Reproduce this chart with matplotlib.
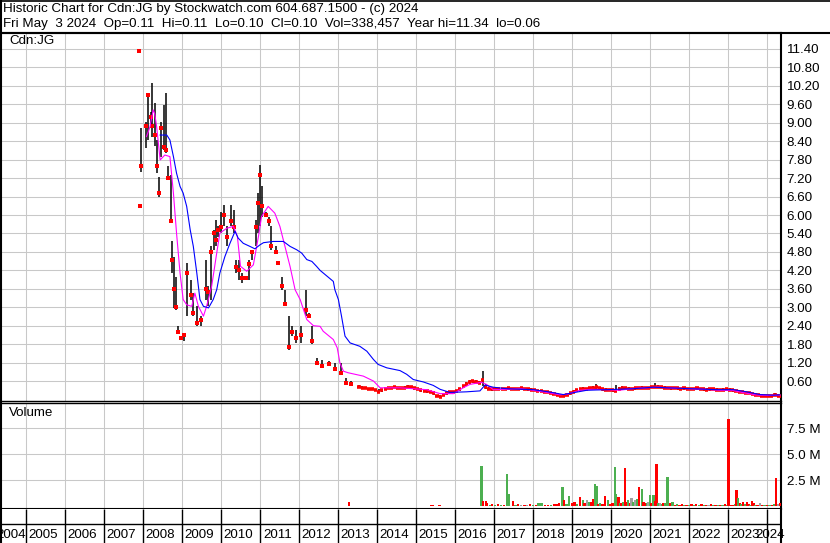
import numpy as np
import pandas as pd
import matplotlib
matplotlib.use("Agg")
import matplotlib.pyplot as plt
from matplotlib.lines import Line2D

plt.rcParams['font.family'] = ['Liberation Sans', 'DejaVu Sans']

# ------------------------------------------------------------------ data
title_line1 = "Historic Chart for Cdn:JG by Stockwatch.com 604.687.1500 - (c) 2024"
title_line2 = ("Fri May  3 2024  Op=0.11  Hi=0.11  Lo=0.10  Cl=0.10  "
               "Vol=338,457  Year hi=11.34  lo=0.06")
symbol = "Cdn:JG"

year_labels = ["2004", "2005", "2006", "2007", "2008", "2009", "2010", "2011",
               "2012", "2013", "2014", "2015", "2016", "2017", "2018", "2019",
               "2020", "2021", "2022", "2023", "2024"]
year_starts = [2005, 2006, 2007, 2008, 2009, 2010, 2011, 2012, 2013, 2014,
               2015, 2016, 2017, 2018, 2019, 2020, 2021, 2022, 2023, 2024]

price_ticks = [0.60, 1.20, 1.80, 2.40, 3.00, 3.60, 4.20, 4.80, 5.40, 6.00,
               6.60, 7.20, 7.80, 8.40, 9.00, 9.60, 10.20, 10.80, 11.40]
vol_ticks = [2.5, 5.0, 7.5]
vol_tick_labels = ["2.5 M", "5.0 M", "7.5 M"]

# early (weekly-ish) bars, decimal years
early_dates = [2007.897, 2007.92, 2007.95, 2008.08, 2008.13, 2008.20, 2008.24,
               2008.30, 2008.35, 2008.41, 2008.46, 2008.54, 2008.58, 2008.64,
               2008.72, 2008.75, 2008.79, 2008.85, 2008.90, 2008.97, 2009.05,
               2009.13, 2009.23, 2009.28, 2009.38, 2009.49, 2009.62, 2009.67,
               2009.74, 2009.82, 2009.87, 2009.92, 2010.00, 2010.08, 2010.15,
               2010.26, 2010.33, 2010.38, 2010.46, 2010.54, 2010.64, 2010.72,
               2010.79, 2010.90, 2010.95, 2011.00, 2011.06, 2011.15, 2011.23,
               2011.28, 2011.41, 2011.46, 2011.56, 2011.64, 2011.74, 2011.82,
               2011.92, 2012.05, 2012.18, 2012.26, 2012.33, 2012.46, 2012.59,
               2012.77, 2012.92, 2013.08, 2013.21, 2013.33]
early_high = [11.34, 6.32, 8.82, 9.04, 9.96, 9.36, 10.28, 9.63, 8.44, 7.25,
              9.04, 9.58, 9.96, 7.58, 7.31, 5.14, 4.65, 4.00, 2.38, 2.06,
              2.16, 4.44, 3.90, 3.46, 3.03, 2.71, 4.55, 3.68, 4.98, 5.52,
              5.84, 5.63, 6.11, 6.33, 5.63, 6.33, 6.17, 4.55, 4.55, 4.11,
              4.00, 4.55, 4.87, 5.84, 6.71, 7.63, 6.93, 6.11, 5.95, 5.63,
              4.98, 4.49, 4.00, 3.57, 2.71, 2.38, 2.27, 2.38, 3.57, 2.81,
              2.38, 1.35, 1.30, 1.24, 1.19, 1.19, 0.70, 0.60]
early_low = [11.30, 6.25, 7.41, 8.17, 8.44, 8.87, 8.55, 8.23, 7.36, 6.60,
             7.90, 8.12, 8.01, 7.14, 5.74, 4.11, 2.98, 2.92, 2.16, 1.95,
             1.89, 2.71, 3.25, 2.71, 2.38, 2.38, 3.25, 3.03, 3.25, 4.87,
             4.98, 5.30, 5.41, 5.63, 4.98, 5.63, 5.41, 4.11, 3.90, 3.79,
             3.90, 3.90, 4.55, 4.98, 5.41, 5.63, 5.95, 5.95, 5.63, 4.87,
             4.76, 4.40, 3.57, 3.03, 1.62, 2.06, 1.84, 1.84, 2.70, 2.65,
             1.79, 1.13, 1.03, 1.10, 0.97, 0.81, 0.49, 0.45]
early_close = [11.34, 6.30, 7.58, 8.90, 9.90, 9.20, 8.90, 8.60, 7.60, 6.70,
               8.82, 8.20, 8.12, 7.20, 5.80, 4.55, 3.60, 3.00, 2.20, 2.00,
               2.10, 4.11, 3.40, 2.80, 2.50, 2.60, 3.60, 3.50, 4.80, 5.40,
               5.20, 5.50, 5.60, 6.00, 5.30, 5.80, 5.60, 4.30, 4.20, 3.95,
               3.95, 4.40, 4.80, 5.60, 6.40, 7.30, 6.30, 6.00, 5.80, 5.00,
               4.80, 4.45, 3.70, 3.10, 1.70, 2.20, 2.00, 2.10, 2.90, 2.70,
               1.90, 1.20, 1.10, 1.15, 1.00, 0.85, 0.55, 0.50]

# later (monthly) bars, Jul 2013 .. May 2024
later_months = pd.period_range("2013-07", "2024-05", freq="M")
later_close = [0.42, 0.38, 0.36, 0.35, 0.33, 0.32,
               0.25, 0.30, 0.33, 0.36, 0.38, 0.40, 0.38, 0.37, 0.39, 0.42, 0.40, 0.36,
               0.33, 0.30, 0.28, 0.27, 0.25, 0.22, 0.10, 0.09, 0.14, 0.20, 0.24, 0.25,
               0.27, 0.33, 0.43, 0.52, 0.58, 0.60, 0.58, 0.55, 0.62, 0.40, 0.35, 0.33,
               0.34, 0.35, 0.33, 0.34, 0.36, 0.35, 0.34, 0.35, 0.36, 0.35, 0.33, 0.32,
               0.30, 0.28, 0.27, 0.25, 0.24, 0.22, 0.18, 0.15, 0.13, 0.12, 0.15, 0.20,
               0.26, 0.30, 0.33, 0.35, 0.34, 0.36, 0.38, 0.40, 0.36, 0.33, 0.32, 0.31,
               0.30, 0.28, 0.33, 0.36, 0.38, 0.35, 0.34, 0.36, 0.37, 0.38, 0.37, 0.38,
               0.40, 0.42, 0.41, 0.40, 0.39, 0.37, 0.36, 0.37, 0.36, 0.35, 0.36, 0.35,
               0.35, 0.34, 0.36, 0.35, 0.33, 0.32, 0.33, 0.34, 0.32, 0.31, 0.32, 0.33,
               0.32, 0.30, 0.28, 0.26, 0.25, 0.22, 0.20, 0.18, 0.16, 0.14, 0.13, 0.12,
               0.12, 0.13, 0.16, 0.12, 0.10]
later_high = [0.47, 0.43, 0.40, 0.38, 0.36, 0.35,
              0.33, 0.34, 0.36, 0.40, 0.42, 0.43, 0.41, 0.40, 0.43, 0.46, 0.43, 0.40,
              0.38, 0.33, 0.32, 0.30, 0.28, 0.27, 0.16, 0.14, 0.18, 0.24, 0.27, 0.28,
              0.30, 0.38, 0.48, 0.58, 0.62, 0.65, 0.63, 0.60, 0.92, 0.50, 0.40, 0.38,
              0.38, 0.39, 0.37, 0.38, 0.42, 0.39, 0.38, 0.39, 0.40, 0.39, 0.37, 0.36,
              0.33, 0.31, 0.30, 0.28, 0.27, 0.25, 0.22, 0.19, 0.17, 0.16, 0.20, 0.25,
              0.30, 0.34, 0.38, 0.40, 0.38, 0.41, 0.44, 0.50, 0.42, 0.38, 0.36, 0.35,
              0.34, 0.48, 0.40, 0.45, 0.42, 0.40, 0.38, 0.41, 0.42, 0.43, 0.41, 0.42,
              0.45, 0.53, 0.47, 0.45, 0.43, 0.41, 0.40, 0.41, 0.40, 0.39, 0.40, 0.39,
              0.39, 0.38, 0.41, 0.39, 0.37, 0.36, 0.37, 0.38, 0.36, 0.35, 0.36, 0.37,
              0.36, 0.35, 0.32, 0.30, 0.29, 0.26, 0.24, 0.22, 0.20, 0.18, 0.17, 0.16,
              0.15, 0.16, 0.22, 0.17, 0.11]
later_low = [0.38, 0.35, 0.33, 0.31, 0.30, 0.28,
             0.22, 0.25, 0.30, 0.33, 0.35, 0.36, 0.35, 0.34, 0.36, 0.38, 0.36, 0.32,
             0.30, 0.26, 0.24, 0.22, 0.21, 0.16, 0.07, 0.06, 0.10, 0.16, 0.21, 0.22,
             0.24, 0.28, 0.38, 0.45, 0.52, 0.55, 0.53, 0.50, 0.45, 0.33, 0.30, 0.29,
             0.30, 0.31, 0.30, 0.30, 0.32, 0.31, 0.30, 0.31, 0.32, 0.31, 0.29, 0.28,
             0.27, 0.25, 0.24, 0.22, 0.21, 0.18, 0.14, 0.11, 0.10, 0.09, 0.12, 0.16,
             0.22, 0.26, 0.29, 0.31, 0.30, 0.32, 0.34, 0.35, 0.32, 0.29, 0.28, 0.27,
             0.26, 0.23, 0.28, 0.32, 0.34, 0.31, 0.30, 0.32, 0.33, 0.34, 0.33, 0.34,
             0.36, 0.37, 0.37, 0.36, 0.35, 0.33, 0.32, 0.33, 0.32, 0.31, 0.32, 0.31,
             0.31, 0.30, 0.32, 0.31, 0.29, 0.28, 0.29, 0.30, 0.28, 0.27, 0.28, 0.29,
             0.28, 0.26, 0.25, 0.23, 0.21, 0.19, 0.17, 0.15, 0.13, 0.12, 0.11, 0.10,
             0.10, 0.11, 0.12, 0.10, 0.10]

# moving averages
ma_fast_dates = [2008.09, 2008.18, 2008.26, 2008.30, 2008.35, 2008.44, 2008.56,
                 2008.69, 2008.78, 2008.86, 2008.95, 2009.03, 2009.12, 2009.25,
                 2009.33, 2009.42, 2009.55, 2009.63, 2009.76, 2009.89, 2009.97,
                 2010.15, 2010.32, 2010.42, 2010.50, 2010.66, 2010.83, 2010.96,
                 2011.04, 2011.21, 2011.38, 2011.51, 2011.64, 2011.77, 2011.90,
                 2012.03, 2012.20, 2012.37, 2012.54, 2012.62, 2012.88, 2012.98,
                 2013.05, 2013.14, 2013.26, 2013.65, 2013.91, 2014.08, 2014.59,
                 2015.27, 2015.62, 2015.96, 2016.21, 2016.38, 2016.68, 2016.81,
                 2016.98, 2017.30, 2017.70, 2018.00, 2018.40, 2018.70, 2018.90,
                 2019.20, 2019.50, 2019.90, 2020.20, 2020.60, 2020.90, 2021.20,
                 2021.60, 2022.00, 2022.40, 2022.80, 2023.10, 2023.40, 2023.70,
                 2024.00, 2024.33]
ma_fast_vals = [8.55, 8.87, 9.42, 9.30, 8.87, 7.79, 7.95, 7.90, 6.71, 5.41,
                4.11, 3.25, 3.08, 3.03, 3.46, 3.03, 2.71, 3.03, 3.68, 4.76,
                5.41, 5.57, 5.63, 5.30, 4.33, 4.17, 4.38, 5.30, 5.95, 6.28,
                6.06, 5.63, 4.98, 4.33, 3.57, 3.25, 2.60, 2.40, 2.38, 2.22,
                1.95, 1.68, 1.19, 0.92, 0.87, 0.76, 0.60, 0.38, 0.38, 0.32,
                0.19, 0.19, 0.38, 0.49, 0.56, 0.49, 0.32, 0.33, 0.35, 0.30,
                0.22, 0.15, 0.18, 0.30, 0.33, 0.32, 0.30, 0.36, 0.38, 0.40,
                0.37, 0.35, 0.33, 0.30, 0.30, 0.22, 0.15, 0.13, 0.14]
ma_slow_dates = [2008.44, 2008.61, 2008.69, 2008.78, 2008.86, 2008.95, 2009.03,
                 2009.12, 2009.21, 2009.29, 2009.38, 2009.46, 2009.55, 2009.68,
                 2009.80, 2009.89, 2009.97, 2010.10, 2010.23, 2010.36, 2010.44,
                 2010.57, 2010.74, 2010.87, 2011.00, 2011.09, 2011.34, 2011.60,
                 2011.77, 2011.94, 2012.07, 2012.20, 2012.33, 2012.45, 2012.54,
                 2012.88, 2012.92, 2013.01, 2013.09, 2013.18, 2013.31, 2013.56,
                 2013.74, 2013.91, 2014.03, 2014.25, 2014.59, 2014.76, 2014.93,
                 2015.19, 2015.44, 2015.62, 2015.87, 2016.30, 2016.64, 2016.77,
                 2016.98, 2017.33, 2018.01, 2018.44, 2018.78, 2019.03, 2019.38,
                 2019.89, 2020.57, 2021.08, 2021.85, 2022.71, 2023.14, 2023.48,
                 2023.82, 2024.16, 2024.33]
ma_slow_vals = [8.60, 8.60, 8.44, 7.90, 7.36, 6.93, 6.71, 6.28, 5.52, 4.98,
                4.11, 3.25, 3.03, 2.98, 3.25, 3.57, 4.11, 4.65, 5.08, 5.47,
                5.25, 5.08, 4.98, 4.90, 5.03, 5.10, 5.14, 5.14, 4.98, 4.87,
                4.76, 4.55, 4.49, 4.33, 4.20, 3.84, 3.57, 3.25, 2.71, 2.06,
                1.84, 1.73, 1.57, 1.30, 1.14, 1.03, 0.94, 0.82, 0.65, 0.57,
                0.46, 0.33, 0.23, 0.25, 0.28, 0.47, 0.40, 0.35, 0.32, 0.24,
                0.16, 0.22, 0.30, 0.32, 0.35, 0.40, 0.36, 0.32, 0.32, 0.25,
                0.16, 0.14, 0.15]

# weekly volume (millions): date, size, direction (u=up, d=down, n=unchanged)
vol_dates = [2011.77, 2013.28, 2015.40, 2015.44, 2015.60, 2016.66, 2016.68, 2016.72,
             2016.79, 2016.82, 2016.90, 2016.95, 2017.03, 2017.10, 2017.18, 2017.25,
             2017.33, 2017.39, 2017.48, 2017.55, 2017.62, 2017.70, 2017.78, 2017.85,
             2017.92, 2018.00, 2018.08, 2018.14, 2018.22, 2018.30, 2018.38, 2018.46,
             2018.55, 2018.62, 2018.67, 2018.76, 2018.79, 2018.86, 2018.93, 2019.00,
             2019.06, 2019.12, 2019.21, 2019.28, 2019.32, 2019.38, 2019.44, 2019.48,
             2019.55, 2019.59, 2019.63, 2019.68, 2019.72, 2019.78, 2019.84, 2019.92,
             2019.98, 2020.04, 2020.10, 2020.13, 2020.19, 2020.23, 2020.27, 2020.32,
             2020.36, 2020.40, 2020.44, 2020.49, 2020.53, 2020.58, 2020.62, 2020.68,
             2020.72, 2020.79, 2020.83, 2020.87, 2020.92, 2020.96, 2021.00, 2021.04,
             2021.09, 2021.13, 2021.17, 2021.22, 2021.26, 2021.30, 2021.34, 2021.40,
             2021.45, 2021.51, 2021.58, 2021.64, 2021.70, 2021.76, 2021.82, 2021.88,
             2021.94, 2022.00, 2022.06, 2022.12, 2022.18, 2022.25, 2022.32, 2022.38,
             2022.44, 2022.50, 2022.56, 2022.62, 2022.68, 2022.74, 2022.80, 2022.86,
             2022.92, 2022.97, 2023.01, 2023.06, 2023.14, 2023.18, 2023.22, 2023.26,
             2023.30, 2023.35, 2023.39, 2023.44, 2023.48, 2023.53, 2023.57, 2023.61,
             2023.65, 2023.70, 2023.76, 2023.82, 2023.88, 2023.94, 2024.00, 2024.06,
             2024.12, 2024.18, 2024.23, 2024.29, 2024.33]
vol_m = [0.05, 0.45, 0.08, 0.08, 0.15, 0.63, 3.83, 0.50,
         0.50, 0.30, 0.15, 0.20, 0.12, 0.25, 0.10, 0.15,
         3.13, 1.20, 0.55, 0.10, 0.20, 0.12, 0.15, 0.10,
         0.18, 0.12, 0.10, 0.30, 0.30, 0.15, 0.10, 0.10,
         0.18, 0.20, 0.30, 1.84, 0.60, 0.25, 1.00, 0.30,
         0.40, 0.20, 0.88, 0.65, 0.30, 0.63, 0.40, 0.40,
         0.75, 2.16, 1.97, 0.25, 0.30, 0.20, 1.01, 0.63,
         0.25, 0.30, 3.77, 1.20, 0.88, 0.35, 0.30, 0.45,
         3.67, 0.40, 0.60, 0.30, 0.79, 0.40, 0.63, 0.70,
         1.84, 1.65, 0.45, 0.30, 0.30, 0.40, 1.10, 0.35,
         1.10, 0.50, 4.09, 0.30, 0.30, 0.25, 0.30, 0.35,
         2.81, 0.30, 0.40, 0.15, 0.20, 0.15, 0.20, 0.10,
         0.12, 0.15, 0.20, 0.10, 0.25, 0.15, 0.20, 0.10,
         0.15, 0.10, 0.20, 0.15, 0.10, 0.12, 0.15, 0.10,
         0.20, 0.12, 8.41, 0.15, 0.15, 0.20, 1.52, 0.79,
         0.35, 0.20, 0.40, 0.25, 0.45, 0.25, 0.15, 0.50,
         0.30, 0.12, 0.15, 0.30, 0.10, 0.15, 0.12, 0.10,
         0.15, 0.20, 2.74, 0.20, 0.34]
vol_dir = ["d", "d", "d", "d", "d", "d", "u", "d",
           "d", "d", "u", "d", "u", "d", "u", "d",
           "u", "u", "d", "u", "d", "n", "d", "n",
           "d", "u", "d", "u", "u", "d", "d", "u",
           "d", "d", "d", "u", "d", "u", "u", "d",
           "d", "u", "d", "u", "d", "n", "u", "d",
           "d", "u", "u", "d", "u", "d", "d", "u",
           "d", "d", "u", "u", "d", "u", "d", "u",
           "d", "d", "u", "d", "n", "u", "n", "u",
           "d", "u", "d", "d", "u", "n", "u", "d",
           "u", "d", "d", "u", "n", "u", "d", "u",
           "u", "d", "u", "d", "u", "d", "d", "u",
           "d", "u", "d", "u", "d", "u", "d", "u",
           "d", "n", "d", "u", "d", "u", "d", "u",
           "d", "u", "d", "d", "d", "u", "d", "u",
           "d", "u", "d", "u", "d", "d", "u", "d",
           "d", "u", "d", "n", "d", "u", "d", "u",
           "d", "u", "d", "n", "d"]

# ------------------------------------------------------------------ layout
W, H = 830, 543


def fx(x):
    return x / W


def fy(y):
    return 1 - y / H


XL = (2005 - 26 / 39, 2005 + 755 / 39)
GRID = "#c8c8c8"
RED = "#ff0000"
GREEN = "#4caf50"
GRAY = "#a0a0a0"
FS = 9.6

fig = plt.figure(figsize=(W / 100, H / 100), dpi=100)
fig.patch.set_facecolor("white")

# header text
fig.text(fx(3), fy(9), title_line1, fontsize=FS, ha="left", va="center")
fig.text(fx(3), fy(24), title_line2, fontsize=FS, ha="left", va="center")

# ---- price panel
P_TOP, P_BOT = 33, 400.5
ax_p = fig.add_axes([0, fy(P_BOT), 781 / W, (P_BOT - P_TOP) / H])
ax_p.set_xlim(*XL)
ax_p.set_ylim((399.5 - P_BOT) / 30.75, (399.5 - P_TOP) / 30.75)
ax_p.set_xticks(year_starts)
ax_p.set_xticklabels([])
ax_p.set_yticks(price_ticks)
ax_p.set_yticklabels([f"{v:.2f}" for v in price_ticks])
ax_p.yaxis.tick_right()
ax_p.tick_params(axis="both", length=0, labelsize=FS, pad=4.0)
ax_p.grid(True, color=GRID, lw=0.75)
ax_p.set_axisbelow(True)
ax_p.spines["left"].set_visible(False)
ax_p.spines["top"].set_linewidth(1.5)
ax_p.spines["right"].set_linewidth(1.5)
ax_p.spines["bottom"].set_linewidth(1.0)

# early bars
ed = np.array(early_dates)
ax_p.vlines(ed, early_low, early_high, color="black", lw=1.1, zorder=3)
ax_p.plot(ed, early_close, linestyle="none", marker="s", ms=2.5, mew=0,
          color=RED, zorder=4)

# later monthly bars
ld = np.array([p.year + (p.month - 1) / 12 for p in later_months])
ax_p.vlines(ld + 1 / 24, later_low, later_high, color="black", lw=1.1, zorder=3)
ax_p.hlines(later_close, ld, ld + 1 / 12, color=RED, lw=2.6, zorder=4)

# moving averages
ax_p.plot(ma_fast_dates, ma_fast_vals, color="#ff00ff", lw=0.8, zorder=5)
ax_p.plot(ma_slow_dates, ma_slow_vals, color="#0000ff", lw=0.8, zorder=5)

fig.text(fx(9), fy(41), symbol, fontsize=FS, ha="left", va="center")

# ---- volume panel
V_TOP, V_BOT = 402.5, 509
ax_v = fig.add_axes([0, fy(V_BOT), 781 / W, (V_BOT - V_TOP) / H])
ax_v.set_xlim(*XL)
ax_v.set_ylim(-(V_BOT - 506.3) / 10.4, (506.3 - V_TOP) / 10.4)
ax_v.set_xticks(year_starts)
ax_v.set_xticklabels([])
ax_v.set_yticks(vol_ticks)
ax_v.set_yticklabels(vol_tick_labels)
ax_v.yaxis.tick_right()
ax_v.tick_params(axis="both", length=0, labelsize=FS, pad=4.0)
ax_v.grid(True, color=GRID, lw=0.75)
ax_v.set_axisbelow(True)
ax_v.spines["left"].set_visible(False)
ax_v.spines["top"].set_linewidth(1.0)
ax_v.spines["right"].set_linewidth(1.5)
ax_v.spines["bottom"].set_linewidth(1.5)
cmap = {"u": GREEN, "d": RED, "n": GRAY}
ax_v.bar(vol_dates, vol_m, width=0.06, color=[cmap[c] for c in vol_dir],
         linewidth=0, zorder=3)
fig.text(fx(9), fy(413), "Volume", fontsize=FS, ha="left", va="center")

# ---- year axis band
ax_x = fig.add_axes([0, 0, 781 / W, (H - V_BOT) / H])
ax_x.set_xlim(*XL)
ax_x.set_ylim(0, 1)
ax_x.set_xticks([])
ax_x.set_yticks([])
for s in ["left", "bottom", "top"]:
    ax_x.spines[s].set_visible(False)
ax_x.spines["right"].set_linewidth(1.5)
ax_x.vlines(year_starts, 0, 1, color="black", lw=1.0)
ax_x.axhline((H - 524) / (H - V_BOT), color="black", lw=1.0)
label_pos = [XL[0] + 11 / 39] + [y + 0.45 for y in year_starts[:-1]] + [year_starts[-1] + 0.09]
for lab, xp in zip(year_labels, label_pos):
    ax_x.text(xp, (H - 535) / (H - V_BOT), lab, fontsize=FS, ha="center",
              va="center", clip_on=False)

# ---- frame lines
fig.add_artist(Line2D([fx(0.8), fx(0.8)], [0, 1], color="black", lw=1.5))
fig.add_artist(Line2D([0, 1], [fy(0.5), fy(0.5)], color="black", lw=1.2))
fig.add_artist(Line2D([0, 1], [fy(P_TOP), fy(P_TOP)], color="black", lw=1.5))

fig.savefig("out.png", dpi=100)
